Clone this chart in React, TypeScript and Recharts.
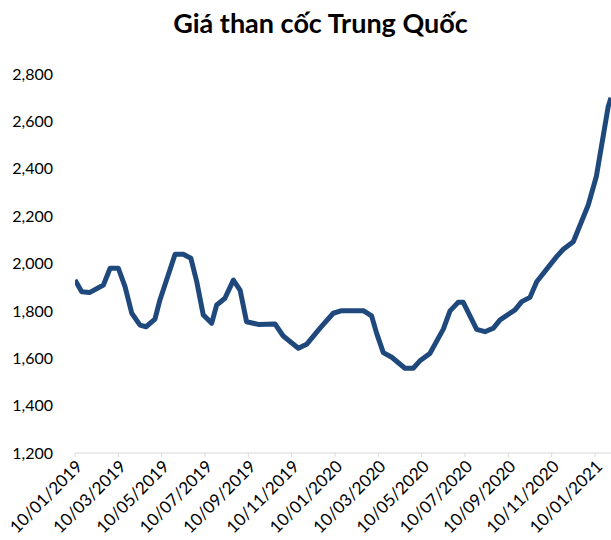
import { LineChart, Line, XAxis, YAxis } from 'recharts';

// months since 10/01/2019
const months = [
  0, 0.31, 0.69, 1.31, 1.62, 2.0, 2.31, 2.62, 3.0, 3.28, 3.69, 3.92, 4.62, 5.0, 5.35, 5.62,
  5.92, 6.31, 6.54, 6.92, 7.31, 7.62, 7.92, 8.46, 9.23, 9.61, 10.31, 10.69, 11.31, 11.92,
  12.31, 13.31, 13.69, 13.92, 14.23, 14.62, 15.23, 15.61, 15.92, 16.38, 17.0, 17.31, 17.69,
  17.92, 18.54, 18.92, 19.31, 19.62, 20.31, 20.62, 21.0, 21.31, 22.23, 22.54, 23.0, 23.69,
  24.06, 24.61, 24.74,
];
const prices = [
  1930, 1881, 1878, 1909, 1980, 1980, 1902, 1790, 1740, 1733, 1765, 1846, 2039, 2039, 2022, 1923,
  1783, 1748, 1825, 1853, 1930, 1888, 1754, 1743, 1745, 1694, 1642, 1659, 1727, 1790,
  1801, 1801, 1779, 1706, 1624, 1604, 1558, 1558, 1589, 1620, 1723, 1800, 1836,
  1836, 1722, 1712, 1727, 1762, 1804, 1839, 1857, 1923, 2029, 2060, 2092, 2247,
  2366, 2662, 2700,
];
const tickMonths = [0, 2, 4, 6, 8, 10, 12, 14, 16, 18, 20, 22, 24];
const tickLabels = [
  '10/01/2019', '10/03/2019', '10/05/2019', '10/07/2019', '10/09/2019', '10/11/2019',
  '10/01/2020', '10/03/2020', '10/05/2020', '10/07/2020', '10/09/2020', '10/11/2020',
  '10/01/2021',
];
const yTicks = [1200, 1400, 1600, 1800, 2000, 2200, 2400, 2600, 2800];

const data = months.map((m, i) => ({ m, price: prices[i] }));

const FONT = 'Lato, "Open Sans", sans-serif';

export default function App() {
  return (
    <div style={{ position: 'absolute', left: 0, top: 0, width: 611, height: 540, overflow: 'hidden', background: '#fff', fontFamily: FONT }}>
      <div style={{ position: 'absolute', left: 0, width: 641, top: 6, textAlign: 'center', fontSize: 27, fontWeight: 700, color: '#000' }}>
        Giá than cốc Trung Quốc
      </div>
      <LineChart width={611} height={540} data={data} margin={{ top: 74, right: 0, left: 0, bottom: 0 }}>
        <XAxis
          dataKey="m"
          type="number"
          domain={[0, 24.74]}
          allowDataOverflow
          ticks={tickMonths}
          tickFormatter={(v: number) => tickLabels[tickMonths.indexOf(v)] ?? ''}
          interval={0}
          height={87}
          stroke="#d9d9d9"
          tickSize={4}
          angle={-45}
          textAnchor="end"
          tick={{ fill: '#000', fontSize: 17, fontFamily: FONT }}
        />
        <YAxis
          type="number"
          domain={[1200, 2800]}
          ticks={yTicks}
          width={75}
          axisLine={false}
          tickLine={false}
          tickSize={20}
          tickFormatter={(v: number) => v.toLocaleString('en-US')}
          tick={{ fill: '#000', fontSize: 16, fontFamily: FONT }}
        />
        <Line
          type="linear"
          dataKey="price"
          stroke="#1f497d"
          strokeWidth={5}
          dot={false}
          strokeLinejoin="round"
          isAnimationActive={false}
        />
      </LineChart>
    </div>
  );
}
